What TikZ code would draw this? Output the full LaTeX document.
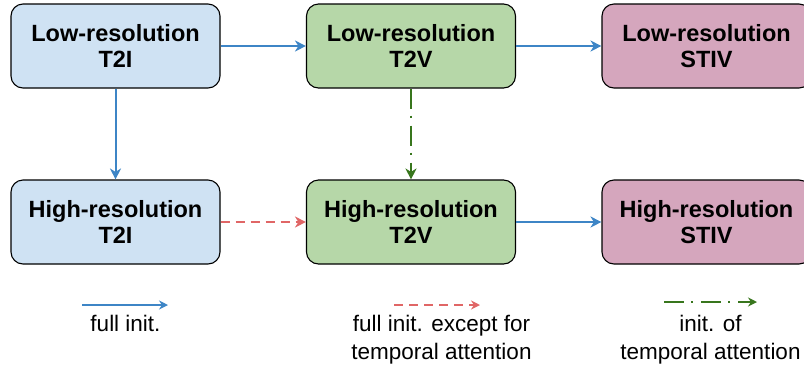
\documentclass[tikz,border=0pt]{standalone}
\usepackage{fontspec}
\setmainfont{Liberation Sans}
\usetikzlibrary{arrows.meta}

\definecolor{boxblue}{HTML}{CFE2F3}
\definecolor{boxgreen}{HTML}{B6D7A8}
\definecolor{boxpink}{HTML}{D5A6BD}
\definecolor{arrblue}{HTML}{3D85C6}
\definecolor{arrred}{HTML}{E06666}
\definecolor{arrgreen}{HTML}{38761D}

\begin{document}
\begin{tikzpicture}[x=1pt, y=-1pt, >={Stealth[length=11pt,width=11pt,inset=3.5pt]},
    model/.style={draw=black, line width=1.1pt, rounded corners=12pt,
        minimum width=209pt, minimum height=84pt, align=center,
        font=\fontsize{23.5}{25.5}\selectfont\bfseries},
    fullinit/.style={->, arrblue, line width=2pt},
    spatinit/.style={->, arrred, line width=2pt, dash pattern=on 9pt off 6pt},
    tempinit/.style={->, arrgreen, line width=2pt, dash pattern=on 20pt off 7pt on 2pt off 8pt},
    legtext/.style={align=center, anchor=north, inner sep=0pt,
        font=\fontsize{22.5}{28}\selectfont}]
        \useasboundingbox (0,0) rectangle (804,368);
        % ==== MODELS ====
        \node[model, fill=boxblue]  (lowT2I)  at (115.5,46)  {Low-resolution\\T2I};
        \node[model, fill=boxgreen] (lowT2V)  at (411,46)    {Low-resolution\\T2V};
        \node[model, fill=boxpink]  (lowSTIV) at (706.5,46)  {Low-resolution\\STIV};
        \node[model, fill=boxblue]  (highT2I)  at (115.5,222) {High-resolution\\T2I};
        \node[model, fill=boxgreen] (highT2V)  at (411,222)   {High-resolution\\T2V};
        \node[model, fill=boxpink]  (highSTIV) at (706.5,222) {High-resolution\\STIV};

        % ==== INITIALISATION ARROWS ====
        \draw[fullinit] (lowT2I) -- (lowT2V);
        \draw[fullinit] (lowT2V) -- (lowSTIV);
        \draw[fullinit] (lowT2I) -- (highT2I);
        \draw[tempinit] (lowT2V) -- (highT2V);
        \draw[spatinit] (highT2I) -- (highT2V);
        \draw[fullinit] (highT2V) -- (highSTIV);

        % ==== LEGEND ====
        \coordinate (fullA) at (82,305);
        \coordinate (fullB) at (168,305);
        \coordinate (spatA) at (394,305);
        \coordinate (spatB) at (480,305);
        \coordinate (tempA) at (664,302);
        \coordinate (tempB) at (757,302);
        \draw[fullinit, >={Stealth[length=9pt,width=9pt,inset=3pt]}] (fullA) -- (fullB);
        \draw[spatinit, >={Stealth[length=9pt,width=9pt,inset=3pt]}] (spatA) -- (spatB);
        \draw[tempinit, >={Stealth[length=9pt,width=9pt,inset=3pt]}] (tempA) -- (tempB);
        \node[legtext] (fullTxt) at (125.5,315) {full init.};
        \node[legtext] (spatTxt) at (441.5,315) {full init. except for\\temporal attention};
        \node[legtext] (tempTxt) at (710.5,315) {init. of\\temporal attention};
\end{tikzpicture}
\end{document}
